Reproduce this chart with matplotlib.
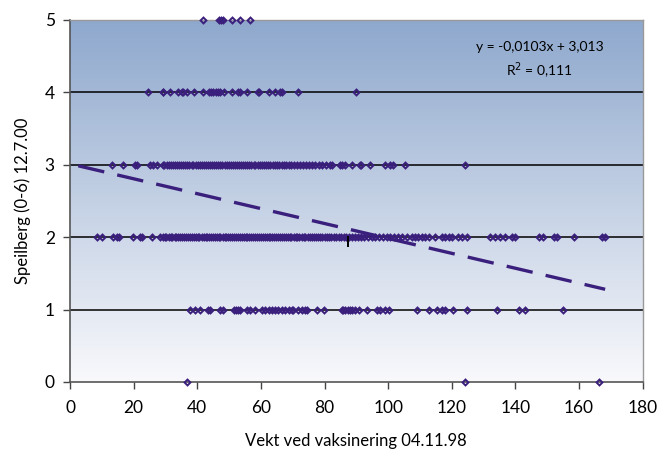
"""Scatter of Speilberg score vs. weight at vaccination, with linear trend."""

import matplotlib

matplotlib.use("Agg")
import matplotlib.pyplot as plt
import numpy as np
from matplotlib.colors import LinearSegmentedColormap

plt.rcParams["font.family"] = ["Lato", "DejaVu Sans"]

# weight (x) per score level
x_at_0 = [36.8, 124.3, 166.2]
x_at_1 = [37.7, 39.3, 40.9, 43.5, 44.0, 47.2, 48.2, 51.4, 52.2, 52.9, 53.5, 55.6,
          56.6, 58.2, 60.3, 61.3, 62.4, 63.4, 64.5, 65.5, 66.6, 67.6, 68.7, 69.7,
          70.2, 71.8, 72.9, 73.9, 74.4, 77.6, 79.7, 85.4, 85.9, 86.5, 87.5, 88.1,
          88.6, 89.6, 90.7, 93.3, 96.4, 97.3, 99.1, 100.4, 109.0, 112.9, 115.5,
          116.9, 118.0, 120.3, 124.7, 134.2, 141.0, 143.1, 154.9]
x_at_2 = [8.4, 10.0, 13.6, 14.7, 15.5, 19.9, 22.0, 22.5, 25.7, 28.4, 29.1, 29.8,
          30.3, 31.0, 31.6, 32.2, 32.9, 33.4, 34.1, 34.7, 35.2, 35.9, 36.5, 37.0,
          37.8, 38.3, 38.9, 39.6, 40.2, 40.7, 41.4, 42.0, 42.6, 43.1, 43.8, 44.4,
          45.0, 45.5, 46.2, 46.8, 47.3, 48.0, 48.6, 49.1, 49.8, 50.4, 51.0, 51.5,
          52.2, 52.8, 53.3, 54.0, 54.6, 55.2, 55.7, 56.4, 57.0, 57.5, 58.2, 58.8,
          59.4, 60.0, 60.6, 61.2, 61.8, 62.4, 63.0, 63.6, 64.2, 64.8, 65.4, 66.0,
          66.6, 67.2, 67.8, 68.4, 69.0, 69.6, 70.3, 70.9, 71.5, 72.1, 72.8, 73.4,
          74.0, 74.7, 75.3, 76.0, 76.6, 77.3, 78.0, 78.6, 79.3, 80.0, 80.7, 81.4,
          82.1, 82.9, 83.6, 84.4, 85.2, 86.0, 86.8, 87.7, 88.6, 89.5, 90.4, 91.4,
          92.5, 93.6, 94.8, 96.0, 97.1, 98.3, 99.5, 100.6, 101.8, 103.0, 104.2,
          105.9, 107.5, 108.5, 109.5, 110.6, 111.6, 112.7, 114.8, 116.9, 117.9,
          119.0, 120.0, 122.1, 123.2, 124.7, 132.1, 133.6, 135.2, 136.8, 138.9,
          139.9, 147.3, 148.8, 152.0, 153.0, 158.3, 167.2, 168.2]
x_at_3 = [13.1, 16.8, 20.4, 21.0, 25.2, 26.2, 27.3, 29.1, 29.7, 30.4, 31.1, 31.7,
          32.3, 33.0, 33.6, 34.3, 34.9, 35.6, 36.2, 36.9, 37.5, 38.2, 38.8, 39.5,
          40.1, 40.8, 41.4, 42.1, 42.7, 43.4, 44.0, 44.7, 45.3, 46.0, 46.6, 47.3,
          47.9, 48.6, 49.2, 49.9, 50.5, 51.2, 51.8, 52.5, 53.1, 53.8, 54.4, 55.1,
          55.7, 56.4, 57.0, 57.7, 58.3, 59.0, 59.6, 60.3, 60.9, 61.6, 62.3, 63.0,
          63.7, 64.4, 65.1, 65.8, 66.5, 67.2, 68.0, 68.8, 69.6, 70.4, 71.3, 72.2,
          73.1, 74.1, 75.0, 76.0, 77.1, 78.2, 79.3, 80.5, 81.6, 82.5, 84.9, 85.6,
          86.5, 88.6, 91.0, 91.4, 94.3, 99.1, 100.6, 101.5, 105.3, 124.3]
x_at_4 = [24.4, 29.2, 29.3, 31.4, 34.1, 35.1, 35.6, 36.7, 39.1, 41.9, 43.7, 44.3,
          45.1, 45.9, 46.6, 47.2, 48.5, 50.8, 52.9, 53.5, 55.6, 59.0, 59.5, 62.7,
          64.5, 66.0, 66.6, 71.8, 89.8]
x_at_5 = [41.9, 46.8, 47.4, 48.0, 50.8, 53.5, 56.6]

trend_slope = -0.0103
trend_intercept = 3.013
trend_x = [2.6, 168.2]
marked_x = 87.5  # short black tick just below level 2

purple = "#3a1f7d"

fig = plt.figure(figsize=(6.59, 4.57), dpi=100, facecolor="white")
ax = fig.add_axes([70 / 659, 1 - 382 / 457, (642.7 - 70) / 659, (382 - 20) / 457])

# vertical gradient background
bg = LinearSegmentedColormap.from_list("bg", ["#f9f9fc", "#8ea8cd"])
grad = np.linspace(0, 1, 256).reshape(-1, 1)
ax.imshow(grad, cmap=bg, origin="lower", aspect="auto",
          extent=[0, 180, 0, 5], zorder=0)

for y in [1, 2, 3, 4]:
    ax.axhline(y, color="black", lw=1.1, zorder=1)

levels = [x_at_0, x_at_1, x_at_2, x_at_3, x_at_4, x_at_5]
for score, xs in enumerate(levels):
    ax.plot(xs, [score] * len(xs), ls="none", marker="D", ms=3.0,
            mfc="none", mec=purple, mew=1.4, zorder=3, clip_on=False)

tx = np.array(trend_x)
ax.plot(tx, trend_slope * tx + trend_intercept, color=purple, lw=2.4,
        dashes=(8, 4), zorder=4)
ax.plot([marked_x, marked_x], [2.0, 1.88], color="black", lw=1.4, zorder=4)

ax.text(0.82, 0.925, "y = -0,0103x + 3,013", transform=ax.transAxes,
        ha="center", va="center", fontsize=10)
ax.text(0.82, 0.86, "R$^{2}$ = 0,111", transform=ax.transAxes,
        ha="center", va="center", fontsize=10)

ax.set_xlim(0, 180)
ax.set_ylim(0, 5)
ax.set_xticks(range(0, 181, 20))
ax.set_yticks(range(0, 6))
ax.tick_params(axis="both", direction="out", length=5, width=1, labelsize=12.5,
               color="#444444")
ax.tick_params(axis="x", pad=8)
ax.tick_params(axis="y", pad=6)

for side in ["left", "bottom"]:
    ax.spines[side].set_color("#555555")
    ax.spines[side].set_linewidth(1.2)
for side in ["top", "right"]:
    ax.spines[side].set_color("#999999")
    ax.spines[side].set_linewidth(1.0)

ax.set_xlabel("Vekt ved vaksinering 04.11.98", fontsize=12, labelpad=12)
ax.set_ylabel("Speilberg (0-6) 12.7.00", fontsize=12, labelpad=10)

fig.savefig("out.png", dpi=100)
